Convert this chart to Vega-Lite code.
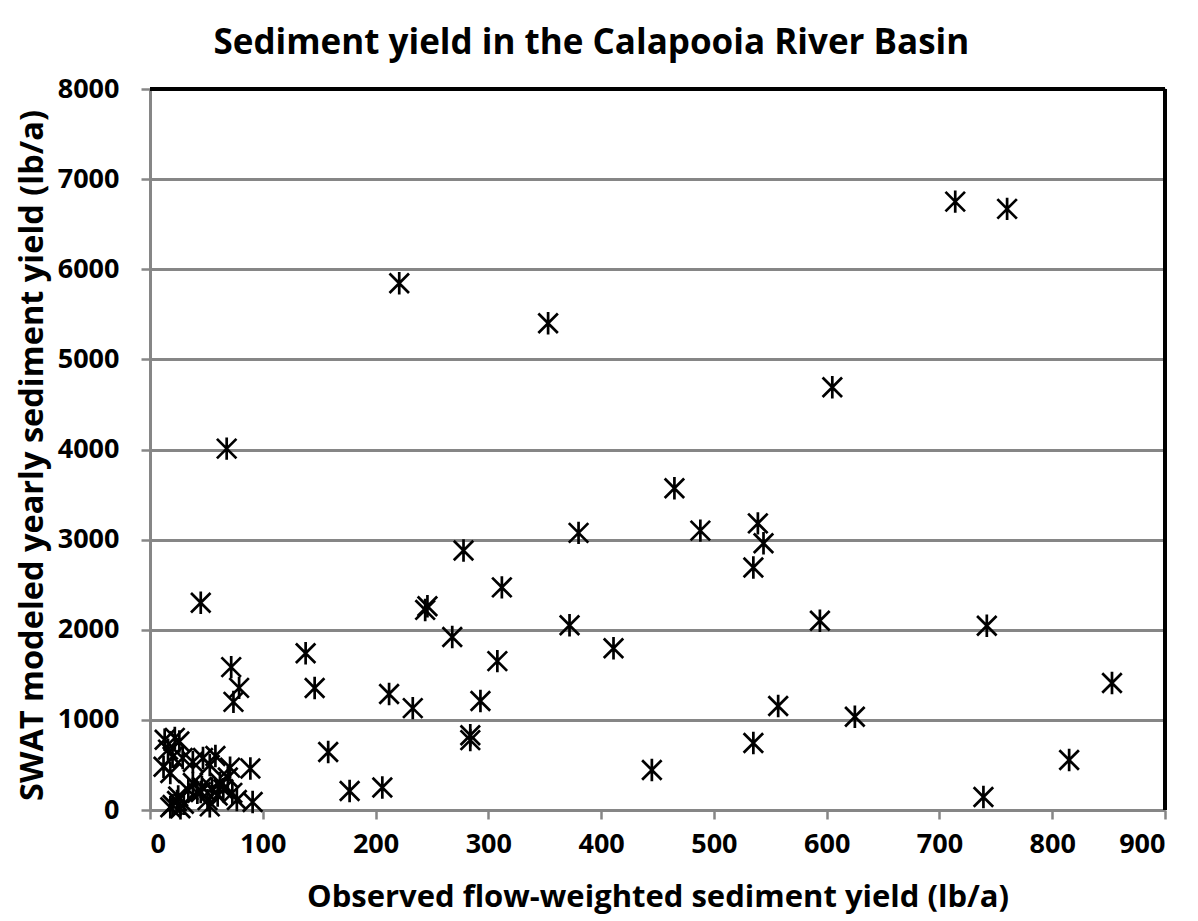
{
  "$schema": "https://vega.github.io/schema/vega-lite/v6.json",
  "width": 1015,
  "height": 721,
  "autosize": {"type": "none"},
  "padding": {"left": 150, "top": 89, "right": 33, "bottom": 111},
  "background": "white",
  "title": {
    "text": "Sediment yield in the Calapooia River Basin",
    "font": "Open Sans",
    "fontSize": 35,
    "fontWeight": "bold",
    "color": "black",
    "anchor": "middle",
    "frame": "bounds",
    "baseline": "alphabetic",
    "offset": 22,
    "dy": 36
  },
  "config": {
    "view": {"stroke": null},
    "axis": {
      "labelFont": "Open Sans",
      "labelFontSize": 27,
      "labelFontWeight": "bold",
      "labelColor": "black",
      "titleFont": "Open Sans",
      "titleFontWeight": "bold",
      "titleColor": "black",
      "domainColor": "#868686",
      "domainWidth": 3,
      "tickColor": "#868686",
      "tickWidth": 2.5,
      "tickSize": 9
    }
  },
  "data": {
    "values": [
      {"obs": 714, "swat": 6750}, {"obs": 760, "swat": 6670}, {"obs": 221, "swat": 5845},
      {"obs": 353, "swat": 5400}, {"obs": 605, "swat": 4690}, {"obs": 68, "swat": 4010},
      {"obs": 465, "swat": 3570}, {"obs": 380, "swat": 3075}, {"obs": 488, "swat": 3100},
      {"obs": 539, "swat": 3180}, {"obs": 544, "swat": 2960}, {"obs": 535, "swat": 2690},
      {"obs": 278, "swat": 2880}, {"obs": 312, "swat": 2470}, {"obs": 45, "swat": 2300},
      {"obs": 246, "swat": 2260}, {"obs": 244, "swat": 2220}, {"obs": 372, "swat": 2050},
      {"obs": 268, "swat": 1920}, {"obs": 411, "swat": 1795}, {"obs": 594, "swat": 2100},
      {"obs": 742, "swat": 2045}, {"obs": 138, "swat": 1740}, {"obs": 72, "swat": 1585},
      {"obs": 308, "swat": 1652}, {"obs": 79, "swat": 1355}, {"obs": 74, "swat": 1200},
      {"obs": 146, "swat": 1354}, {"obs": 212, "swat": 1287}, {"obs": 233, "swat": 1130},
      {"obs": 293, "swat": 1210}, {"obs": 853, "swat": 1410}, {"obs": 557, "swat": 1154},
      {"obs": 625, "swat": 1035}, {"obs": 284, "swat": 830}, {"obs": 284, "swat": 775},
      {"obs": 158, "swat": 644}, {"obs": 535, "swat": 744}, {"obs": 445, "swat": 444},
      {"obs": 815, "swat": 555}, {"obs": 177, "swat": 210}, {"obs": 206, "swat": 250},
      {"obs": 739, "swat": 144},
      {"obs": 13, "swat": 780}, {"obs": 22, "swat": 800}, {"obs": 26, "swat": 760},
      {"obs": 16, "swat": 670}, {"obs": 20, "swat": 590}, {"obs": 12, "swat": 480},
      {"obs": 18, "swat": 410}, {"obs": 29, "swat": 577}, {"obs": 38, "swat": 533},
      {"obs": 47, "swat": 577}, {"obs": 58, "swat": 600}, {"obs": 53, "swat": 500},
      {"obs": 71, "swat": 470}, {"obs": 89, "swat": 460}, {"obs": 38, "swat": 300},
      {"obs": 46, "swat": 255}, {"obs": 55, "swat": 240}, {"obs": 62, "swat": 300},
      {"obs": 69, "swat": 360}, {"obs": 73, "swat": 190}, {"obs": 77, "swat": 111},
      {"obs": 91, "swat": 89}, {"obs": 24, "swat": 100}, {"obs": 20, "swat": 55},
      {"obs": 27, "swat": 20}, {"obs": 18, "swat": 30}, {"obs": 51, "swat": 110},
      {"obs": 53, "swat": 40}, {"obs": 34, "swat": 220}, {"obs": 42, "swat": 190},
      {"obs": 30, "swat": 70}, {"obs": 25, "swat": 150}, {"obs": 60, "swat": 160},
      {"obs": 45, "swat": 200}, {"obs": 65, "swat": 230}
    ]
  },
  "layer": [
    {
      "mark": {
        "type": "point",
        "shape": "M-1,-1L1,1M-1,1L1,-1M0,-1.15L0,1.15",
        "filled": false,
        "stroke": "black",
        "strokeWidth": 2.7,
        "size": 380,
        "opacity": 1
      },
      "encoding": {
        "x": {
          "field": "obs",
          "type": "quantitative",
          "scale": {"domain": [0, 900], "nice": false, "zero": true},
          "axis": {
            "values": [0, 100, 200, 300, 400, 500, 600, 700, 800, 900],
            "format": "d",
            "title": "Observed flow-weighted sediment yield (lb/a)",
            "titleFontSize": 31,
            "grid": false,
            "labelPadding": 12,
            "titleBaseline": "alphabetic",
            "titleY": 96
          }
        },
        "y": {
          "field": "swat",
          "type": "quantitative",
          "scale": {"domain": [0, 8000], "nice": false},
          "axis": {
            "values": [0, 1000, 2000, 3000, 4000, 5000, 6000, 7000, 8000],
            "format": "d",
            "title": "SWAT modeled yearly sediment yield (lb/a)",
            "titleFontSize": 32.5,
            "grid": true,
            "gridColor": "#868686",
            "gridWidth": 3,
            "labelPadding": 22,
            "titleBaseline": "alphabetic",
            "titleX": -108,
            "titleY": 366
          }
        }
      }
    },
    {
      "mark": {"type": "rule", "color": "black", "strokeWidth": 3.5},
      "encoding": {"y": {"datum": 8000, "type": "quantitative"}}
    },
    {
      "mark": {"type": "rule", "color": "black", "strokeWidth": 3.5},
      "encoding": {"x": {"datum": 900, "type": "quantitative"}}
    }
  ]
}
